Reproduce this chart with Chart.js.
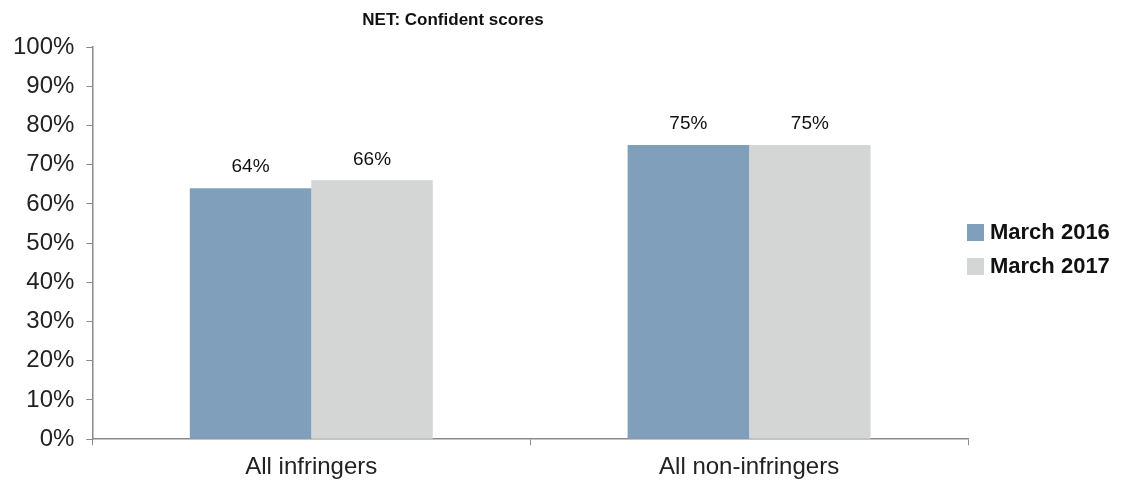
<!DOCTYPE html>
<html>
<head>
<meta charset="utf-8">
<script src="https://cdn.jsdelivr.net/npm/chart.js@4/dist/chart.umd.min.js"></script>
<style>
  html, body { margin: 0; padding: 0; background: #fff; }
  #wrap { width: 1127px; height: 483px; position: relative; }
</style>
</head>
<body>
<div id="wrap"><canvas id="chart"></canvas></div>
<script>
// categorias e séries
const categorias = ['All infringers', 'All non-infringers'];
const marco2016 = [64, 75];
const marco2017 = [66, 75];
const rotulosSeries = ['March 2016', 'March 2017'];
const coresSeries = ['#809fbb', '#d4d5d5'];
const tituloGrafico = 'NET: Confident scores';

const fonteBase = "'Liberation Sans', Arial, Helvetica, sans-serif";

// título desenhado à mão (fica um pouco à esquerda do centro)
const tituloPlugin = {
    id: 'tituloPlugin',
    afterDraw(chart) {
        const ctx = chart.ctx;
        ctx.save();
        ctx.font = "bold 17px " + fonteBase;
        ctx.fillStyle = '#111';
        ctx.textAlign = 'center';
        ctx.textBaseline = 'middle';
        ctx.fillText(tituloGrafico, 453, 20);
        ctx.restore();
    }
};

// legenda à direita, colada no fim do eixo x
const legendaPlugin = {
    id: 'legendaPlugin',
    afterDraw(chart) {
        const ctx = chart.ctx;
        const x0 = chart.chartArea.right - 1;
        ctx.save();
        ctx.font = "bold 22px " + fonteBase;
        ctx.textAlign = 'left';
        ctx.textBaseline = 'middle';
        chart.data.datasets.forEach((ds, i) => {
            const cy = 232 + i * 34;
            ctx.fillStyle = ds.backgroundColor;
            ctx.fillRect(x0, cy - 8, 17, 17);
            ctx.fillStyle = '#111';
            ctx.fillText(ds.label, x0 + 23, cy + 1);
        });
        ctx.restore();
    }
};

// rótulos de valor acima das barras
const rotulosPlugin = {
    id: 'rotulosPlugin',
    afterDatasetsDraw(chart) {
        const ctx = chart.ctx;
        ctx.save();
        ctx.font = "19px " + fonteBase;
        ctx.fillStyle = '#111';
        ctx.textAlign = 'center';
        ctx.textBaseline = 'middle';
        chart.data.datasets.forEach((ds, i) => {
            const meta = chart.getDatasetMeta(i);
            meta.data.forEach((bar, j) => {
                ctx.fillText(ds.data[j] + '%', bar.x, bar.y - 21);
            });
        });
        ctx.restore();
    }
};

new Chart(document.getElementById('chart'), {
    type: 'bar',
    data: {
        labels: categorias,
        datasets: [
            { label: rotulosSeries[0], data: marco2016, backgroundColor: coresSeries[0] },
            { label: rotulosSeries[1], data: marco2017, backgroundColor: coresSeries[1] }
        ]
    },
    options: {
        responsive: true,
        maintainAspectRatio: false,
        animation: false,
        layout: { padding: { top: 47, left: 1, right: 159, bottom: -7 } },
        datasets: {
            bar: { categoryPercentage: 0.555, barPercentage: 1.0 }
        },
        scales: {
            x: {
                grid: { drawOnChartArea: false, color: '#8a8a8a', tickLength: 6, offset: true },
                border: { color: '#8a8a8a', width: 1.5 },
                ticks: { color: '#222', font: { family: fonteBase, size: 24 }, padding: 8 }
            },
            y: {
                min: 0,
                max: 100,
                grid: { drawOnChartArea: false, color: '#8a8a8a', tickLength: 6 },
                border: { color: '#8a8a8a', width: 1.5 },
                ticks: {
                    stepSize: 10,
                    color: '#222',
                    padding: 12,
                    font: { family: fonteBase, size: 24 },
                    callback: v => v + '%'
                }
            }
        },
        plugins: {
            legend: { display: false },
            tooltip: { enabled: false }
        }
    },
    plugins: [tituloPlugin, rotulosPlugin, legendaPlugin]
});
</script>
</body>
</html>
